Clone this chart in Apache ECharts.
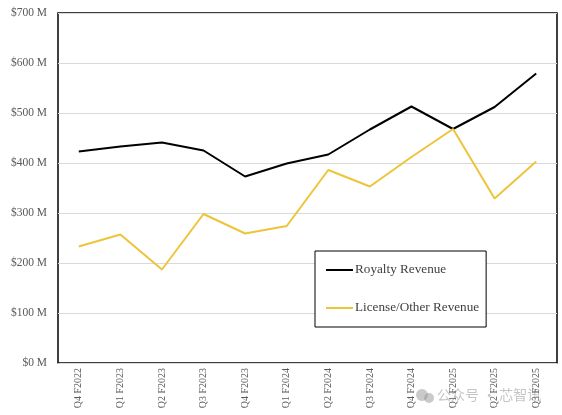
<!DOCTYPE html>
<html>
<head>
<meta charset="utf-8">
<script src="https://cdn.jsdelivr.net/npm/echarts@6/dist/echarts.min.js"></script>
<style>html,body{margin:0;padding:0;background:#fff;}#c{width:562px;height:415px;}</style>
</head>
<body>
<div id="c"></div>
<script>
const categories = ['Q4 F2022','Q1 F2023','Q2 F2023','Q3 F2023','Q4 F2023','Q1 F2024','Q2 F2024','Q3 F2024','Q4 F2024','Q1 F2025','Q2 F2025','Q3 F2025'];
const royaltyRevenue = [423, 433, 441, 425, 373, 399, 417, 467, 513, 468, 512, 579];
const licenseRevenue = [233, 257, 187, 298, 259, 274, 386, 353, 412, 468, 329, 403];
const seriesNames = ['Royalty Revenue', 'License/Other Revenue'];
const watermark = '公众号 · 芯智讯';

const chart = echarts.init(document.getElementById('c'), null, {renderer: 'canvas'});
const serif = '"Liberation Serif", "DejaVu Serif", serif';
chart.setOption({
  animation: false,
  backgroundColor: '#fff',
  grid: {left: 58, right: 5, top: 13, bottom: 52, show: true, borderColor: '#000', borderWidth: 1.5, backgroundColor: 'transparent'},
  xAxis: {
    type: 'category',
    data: categories,
    boundaryGap: true,
    axisLine: {show: true, lineStyle: {color: '#d9d9d9', width: 1}},
    axisTick: {show: false},
    axisLabel: {rotate: 90, fontFamily: serif, fontSize: 10, color: '#595959', margin: 5, interval: 0}
  },
  yAxis: {
    type: 'value', min: 0, max: 700, interval: 100,
    axisLine: {show: false}, axisTick: {show: false},
    splitLine: {lineStyle: {color: '#d9d9d9', width: 1}},
    axisLabel: {formatter: v => '$' + v + ' M', fontFamily: serif, fontSize: 11.5, color: '#595959', margin: 11}
  },
  legend: {
    orient: 'vertical', left: 315, top: 251,
    padding: [12, 7, 12, 11],
    itemGap: 24, itemWidth: 27, itemHeight: 2,
    icon: 'rect',
    borderColor: '#000', borderWidth: 1, backgroundColor: '#fff',
    textStyle: {fontFamily: serif, fontSize: 13.2, color: '#404040', lineHeight: 14, padding: [0,0,0,-3]},
    data: seriesNames
  },
  series: [
    {name: seriesNames[0], type: 'line', data: royaltyRevenue, symbol: 'none', lineStyle: {color: '#000', width: 2}, itemStyle: {color: '#000'}},
    {name: seriesNames[1], type: 'line', data: licenseRevenue, symbol: 'none', lineStyle: {color: '#EEC43A', width: 2}, itemStyle: {color: '#EEC43A'}}
  ],
  graphic: [
    {type: 'circle', silent: true, shape: {cx: 422, cy: 395, r: 6}, style: {fill: 'rgba(150,150,150,0.5)'}},
    {type: 'circle', silent: true, shape: {cx: 429, cy: 398, r: 5}, style: {fill: 'rgba(150,150,150,0.5)'}},
    {type: 'text', left: 437, top: 388, silent: true,
     style: {text: watermark, fontFamily: '"Noto Sans CJK SC", sans-serif', fontSize: 14, fill: 'rgba(150,150,150,0.55)'}}
  ]
});
</script>
</body>
</html>
